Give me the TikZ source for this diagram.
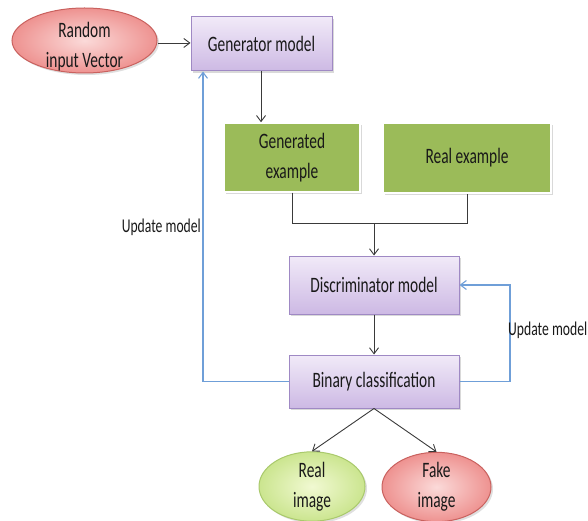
\documentclass[tikz,border=0pt]{standalone}
\usepackage{fontspec}
\setmainfont[FakeStretch=0.7]{Carlito}
\usetikzlibrary{shapes.geometric,arrows.meta,shadows}

\definecolor{inkgray}{HTML}{3A3A3A}
\definecolor{loopblue}{HTML}{6F9FD8}
\definecolor{boxtop}{HTML}{F1EAF8}
\definecolor{boxbot}{HTML}{CDB9E4}
\definecolor{boxedge}{HTML}{9F89C4}
\definecolor{leaf}{HTML}{9BBB59}
\definecolor{pinkin}{HTML}{FBDAD9}
\definecolor{pinkout}{HTML}{EE9290}
\definecolor{pinkedge}{HTML}{C9615E}
\definecolor{limein}{HTML}{F1F9D2}
\definecolor{limeout}{HTML}{CBE58F}
\definecolor{limeedge}{HTML}{A9C96C}

\tikzset{
  lbl/.style={font=\fontsize{22}{30}\selectfont, text=black!90, align=center},
  smalllbl/.style={font=\fontsize{19.5}{24}\selectfont, text=black!90},
  model/.style={lbl, rectangle, draw=boxedge, line width=1pt,
    top color=boxtop, bottom color=boxbot,
    drop shadow={shadow xshift=2pt, shadow yshift=-2pt, opacity=0.3}},
  sample/.style={lbl, rectangle, fill=leaf, draw=white, line width=1.5pt,
    drop shadow={shadow xshift=2pt, shadow yshift=-2pt, opacity=0.3}},
  blob/.style={lbl, ellipse, inner sep=0pt, line width=1pt,
    drop shadow={shadow xshift=2pt, shadow yshift=-2pt, opacity=0.25}},
  redblob/.style={blob, draw=pinkedge, inner color=pinkin, outer color=pinkout},
  greenblob/.style={blob, draw=limeedge, inner color=limein, outer color=limeout},
  flow/.style={draw=inkgray, line width=0.9pt},
  flowarr/.style={flow, -{Straight Barb[length=6pt,width=9pt,line width=0.9pt]}},
  feedback/.style={draw=loopblue, line width=1.1pt,
    -{Straight Barb[length=6pt,width=9pt,line width=1.1pt]}}
}

\begin{document}
\begin{tikzpicture}[x=1pt,y=-1pt]
  \useasboundingbox (0,0) rectangle (588,521);

  % input, generator and the two example sources
  \node[redblob, minimum width=145pt, minimum height=65pt,
        label={[lbl, yshift=-6pt]center:Random\\input Vector}] (rand) at (84.5,40.5) {};
  \node[model, minimum width=141pt, minimum height=54pt] (gen) at (261.5,44) {Generator model};
  \node[sample, minimum width=136pt, minimum height=69pt] (genex) at (292,157.5) {Generated\\example};
  \node[sample, minimum width=168pt, minimum height=70pt] (realex) at (467,158) {Real example};

  % discriminator and its decision
  \node[model, minimum width=170pt, minimum height=58pt] (disc) at (374,285) {Discriminator model};
  \node[model, minimum width=170pt, minimum height=53pt] (bin) at (374,381.5) {Binary classification};

  % outcomes
  \node[greenblob, minimum width=106pt, minimum height=67pt] (realimg) at (312,486.5) {Real\\image};
  \node[redblob, minimum width=109pt, minimum height=67pt] (fakeimg) at (436.5,487) {Fake\\image};

  % forward flow
  \draw[flowarr] (rand.east |- 0,43) -- (gen.west |- 0,43);
  \draw[flowarr] (gen.south -| 261,0) -- (genex.north -| 261,0);
  \coordinate (jl) at (genex.south |- 0,223);
  \coordinate (jr) at (realex.south |- 0,223);
  \draw[flow] (genex.south) -- (jl) -- (jr) -- (realex.south);
  \draw[flowarr] (disc.north |- jl) -- (disc.north);
  \draw[flowarr] (disc.south) -- (bin.north);
  \draw[flowarr] (bin.south) -- (realimg.north);
  \draw[flowarr] (bin.south) -- (fakeimg.north);

  % feedback loops
  \coordinate (lbend) at (203,381.5);
  \coordinate (rbend) at (510,381.5);
  \draw[feedback] (bin.west) -- (lbend) -- (lbend |- gen.south);
  \draw[feedback] (bin.east) -- (rbend) |- (disc.east);

  \node[smalllbl, anchor=east, inner sep=0pt] (updl) at (201,227) {Update model};
  \node[smalllbl, anchor=west, inner sep=0pt] (updr) at (508,330) {Update model};
\end{tikzpicture}
\end{document}
